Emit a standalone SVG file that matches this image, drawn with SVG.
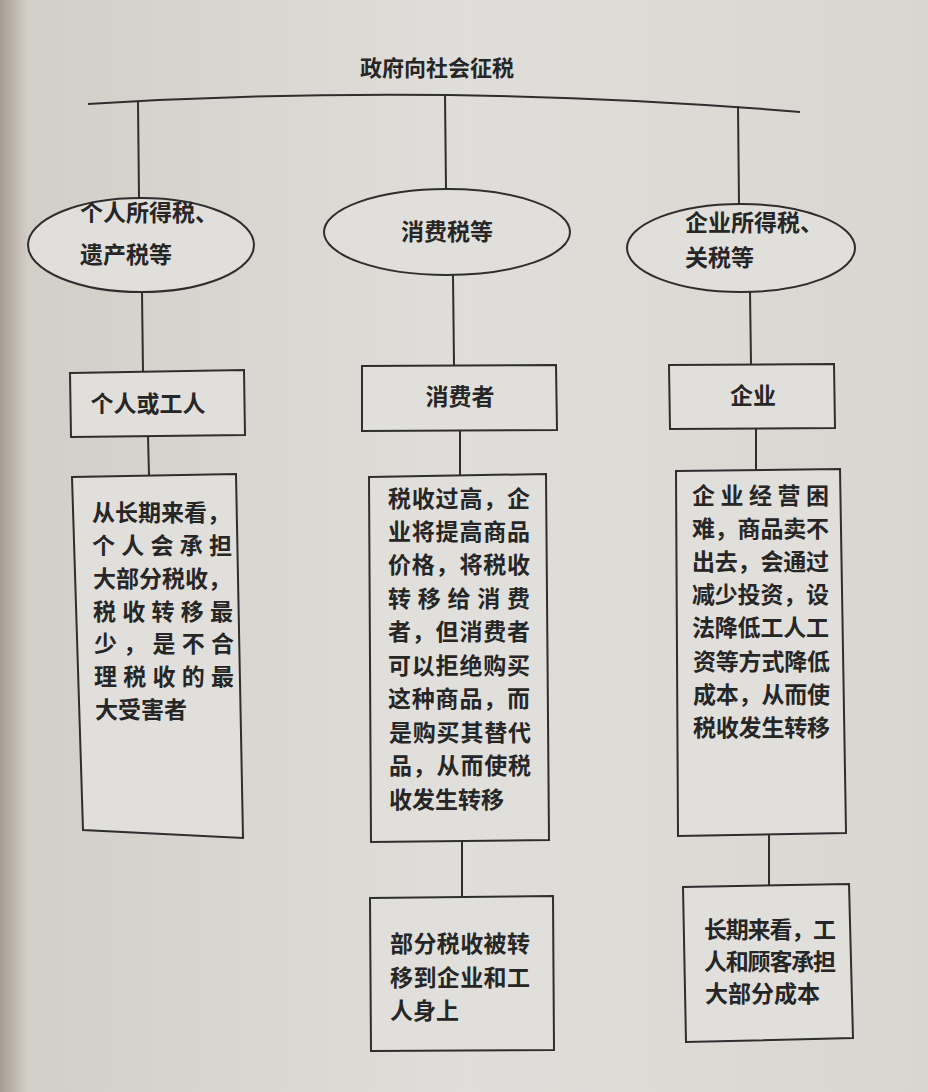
<svg xmlns="http://www.w3.org/2000/svg" width="928" height="1092" viewBox="0 0 928 1092">
<defs>
<linearGradient id="paper" x1="0" y1="0" x2="1" y2="0">
<stop offset="0" stop-color="#a89c90"/>
<stop offset="0.03" stop-color="#d2cfc9"/>
<stop offset="0.5" stop-color="#e0deda"/>
<stop offset="1" stop-color="#d9d6d1"/>
</linearGradient>
<style>
.ln{fill:none;stroke:#2e2e2e;stroke-width:2}
.bx{fill:#e1dfdb;stroke:#2e2e2e;stroke-width:2}
.t{font-family:"Noto Sans CJK SC","Noto Sans",sans-serif;font-size:23px;font-weight:700;fill:#262626}
.tc{text-anchor:middle}
</style>
</defs>
<rect width="928" height="1092" fill="url(#paper)"/>

<g id="title">
<text class="t tc" x="437" y="76" style="font-size:22px">政府向社会征税</text>
</g>

<g id="connectors">
<path class="ln" d="M88,104 Q445,82 800,112"/>
<line class="ln" x1="138" y1="102" x2="139" y2="198"/>
<line class="ln" x1="445" y1="94" x2="446" y2="190"/>
<line class="ln" x1="738" y1="106" x2="739" y2="204"/>
<line class="ln" x1="142" y1="292" x2="143" y2="372"/>
<line class="ln" x1="453" y1="275" x2="454" y2="365"/>
<line class="ln" x1="750" y1="291" x2="751" y2="364"/>
<line class="ln" x1="148" y1="436" x2="149" y2="475"/>
<line class="ln" x1="460" y1="430" x2="460" y2="475"/>
<line class="ln" x1="756" y1="428" x2="756" y2="470"/>
<line class="ln" x1="462" y1="840" x2="462" y2="897"/>
<line class="ln" x1="769" y1="835" x2="769" y2="885"/>
</g>

<g id="node-tax-personal">
<ellipse class="bx" cx="141" cy="245" rx="113" ry="47"/>
<text class="t" x="80" y="221">个人所得税、</text>
<text class="t" x="80" y="263">遗产税等</text>
</g>
<g id="node-tax-consumption">
<ellipse class="bx" cx="447" cy="232" rx="123" ry="43"/>
<text class="t tc" x="447" y="240">消费税等</text>
</g>
<g id="node-tax-corporate">
<ellipse class="bx" cx="741" cy="248" rx="114" ry="44"/>
<text class="t" x="685" y="231">企业所得税、</text>
<text class="t" x="685" y="266">关税等</text>
</g>

<g id="node-individual">
<polygon class="bx" points="70,373 244,370 245,435 71,437"/>
<text class="t tc" x="148" y="412">个人或工人</text>
</g>
<g id="node-consumer">
<polygon class="bx" points="362,366 556,365 557,430 362,431"/>
<text class="t tc" x="460" y="405">消费者</text>
</g>
<g id="node-enterprise">
<polygon class="bx" points="669,365 834,364 835,428 670,429"/>
<text class="t tc" x="753" y="404">企业</text>
</g>

<g id="node-individual-detail">
<polygon class="bx" points="72,477 236,474 243,838 83,830"/>
<text class="t" x="92" y="521">从长期来看，</text>
<text class="t" x="92" y="554" textLength="140" lengthAdjust="spacing">个人会承担</text>
<text class="t" x="93" y="587">大部分税收，</text>
<text class="t" x="93" y="620" textLength="140" lengthAdjust="spacing">税收转移最</text>
<text class="t" x="94" y="652" textLength="140" lengthAdjust="spacing">少，是不合</text>
<text class="t" x="94" y="685" textLength="140" lengthAdjust="spacing">理税收的最</text>
<text class="t" x="95" y="718">大受害者</text>
</g>

<g id="node-consumer-detail">
<polygon class="bx" points="369,477 546,474 549,840 371,842"/>
<text class="t" x="388" y="507" textLength="142" lengthAdjust="spacing">税收过高，企</text>
<text class="t" x="388" y="540" textLength="142" lengthAdjust="spacing">业将提高商品</text>
<text class="t" x="388" y="573" textLength="142" lengthAdjust="spacing">价格，将税收</text>
<text class="t" x="388" y="607" textLength="142" lengthAdjust="spacing">转移给消费</text>
<text class="t" x="388" y="640" textLength="142" lengthAdjust="spacing">者，但消费者</text>
<text class="t" x="388" y="674" textLength="142" lengthAdjust="spacing">可以拒绝购买</text>
<text class="t" x="388" y="707" textLength="142" lengthAdjust="spacing">这种商品，而</text>
<text class="t" x="389" y="741" textLength="142" lengthAdjust="spacing">是购买其替代</text>
<text class="t" x="389" y="774" textLength="142" lengthAdjust="spacing">品，从而使税</text>
<text class="t" x="389" y="808">收发生转移</text>
</g>

<g id="node-enterprise-detail">
<polygon class="bx" points="676,471 840,469 846,833 678,836"/>
<text class="t" x="692" y="504" textLength="137" lengthAdjust="spacing">企业经营困</text>
<text class="t" x="692" y="537" textLength="137" lengthAdjust="spacing">难，商品卖不</text>
<text class="t" x="692" y="570" textLength="137" lengthAdjust="spacing">出去，会通过</text>
<text class="t" x="692" y="603" textLength="137" lengthAdjust="spacing">减少投资，设</text>
<text class="t" x="692" y="636" textLength="137" lengthAdjust="spacing">法降低工人工</text>
<text class="t" x="693" y="670" textLength="137" lengthAdjust="spacing">资等方式降低</text>
<text class="t" x="693" y="703" textLength="137" lengthAdjust="spacing">成本，从而使</text>
<text class="t" x="693" y="736" textLength="137" lengthAdjust="spacing">税收发生转移</text>
</g>

<g id="node-consumer-result">
<polygon class="bx" points="370,898 553,896 554,1050 371,1051"/>
<text class="t" x="390" y="952" textLength="140" lengthAdjust="spacing">部分税收被转</text>
<text class="t" x="390" y="986" textLength="140" lengthAdjust="spacing">移到企业和工</text>
<text class="t" x="390" y="1019">人身上</text>
</g>

<g id="node-enterprise-result">
<polygon class="bx" points="683,887 849,884 853,1038 686,1042"/>
<text class="t" x="704" y="938" textLength="132" lengthAdjust="spacing">长期来看，工</text>
<text class="t" x="704" y="970" textLength="132" lengthAdjust="spacing">人和顾客承担</text>
<text class="t" x="705" y="1002">大部分成本</text>
</g>
</svg>
